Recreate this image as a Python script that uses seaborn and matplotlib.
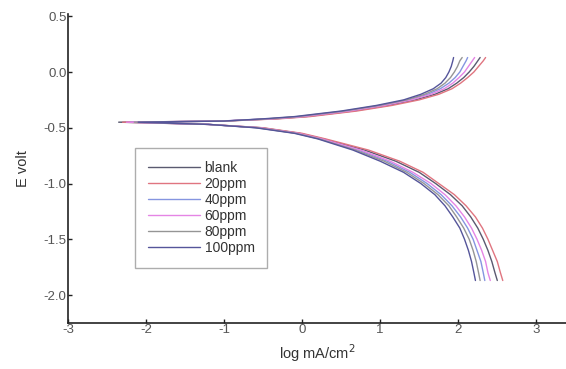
import numpy as np
import pandas as pd
import matplotlib
matplotlib.use("Agg")
import matplotlib.pyplot as plt
import seaborn as sns

# potential grids (V) for the two branches
e_cath = [-0.45, -0.47, -0.50, -0.55, -0.60, -0.70, -0.80, -0.90, -1.00, -1.10,
          -1.20, -1.30, -1.40, -1.50, -1.60, -1.70, -1.80, -1.87]
e_anod = [-0.45, -0.44, -0.42, -0.40, -0.35, -0.30, -0.25, -0.20, -0.15, -0.10,
          -0.05, 0.00, 0.05, 0.10, 0.13]

labels = ["blank", "20ppm", "40ppm", "60ppm", "80ppm", "100ppm"]

# log current density, cathodic branch
cath_blank = [-2.35, -1.20, -0.52, -0.03, 0.27, 0.80, 1.20, 1.50, 1.71, 1.90, 2.05, 2.16, 2.25, 2.32, 2.38, 2.43, 2.47, 2.50]
cath_20 = [-2.30, -1.20, -0.50, 0.00, 0.30, 0.85, 1.25, 1.55, 1.75, 1.95, 2.10, 2.22, 2.31, 2.38, 2.44, 2.50, 2.54, 2.57]
cath_40 = [-2.20, -1.20, -0.56, -0.07, 0.23, 0.72, 1.09, 1.38, 1.60, 1.78, 1.92, 2.03, 2.12, 2.19, 2.24, 2.29, 2.32, 2.34]
cath_60 = [-2.25, -1.20, -0.55, -0.05, 0.25, 0.75, 1.13, 1.42, 1.65, 1.83, 1.97, 2.08, 2.17, 2.24, 2.30, 2.35, 2.38, 2.41]
cath_80 = [-2.15, -1.20, -0.58, -0.08, 0.22, 0.68, 1.05, 1.34, 1.56, 1.74, 1.88, 1.98, 2.07, 2.14, 2.19, 2.23, 2.26, 2.28]
cath_100 = [-2.10, -1.20, -0.60, -0.10, 0.20, 0.65, 1.00, 1.30, 1.52, 1.70, 1.83, 1.93, 2.02, 2.08, 2.13, 2.17, 2.20, 2.22]

# anodic branch
anod_blank = [-2.35, -1.00, -0.35, 0.05, 0.65, 1.10, 1.45, 1.70, 1.87, 1.98, 2.07, 2.14, 2.20, 2.25, 2.28]
anod_20 = [-2.30, -1.00, -0.30, 0.10, 0.70, 1.15, 1.50, 1.75, 1.92, 2.03, 2.12, 2.20, 2.26, 2.32, 2.35]
anod_40 = [-2.20, -1.05, -0.42, -0.03, 0.57, 1.02, 1.37, 1.61, 1.77, 1.88, 1.96, 2.02, 2.06, 2.10, 2.12]
anod_60 = [-2.25, -1.05, -0.40, 0.00, 0.60, 1.05, 1.40, 1.65, 1.82, 1.93, 2.01, 2.08, 2.13, 2.18, 2.21]
anod_80 = [-2.15, -1.00, -0.45, -0.06, 0.54, 0.99, 1.34, 1.57, 1.73, 1.83, 1.90, 1.95, 1.99, 2.02, 2.05]
anod_100 = [-2.10, -1.00, -0.50, -0.10, 0.50, 0.95, 1.30, 1.52, 1.68, 1.78, 1.84, 1.88, 1.91, 1.93, 1.94]

cath = [cath_blank, cath_20, cath_40, cath_60, cath_80, cath_100]
anod = [anod_blank, anod_20, anod_40, anod_60, anod_80, anod_100]
colors = ["#5a5a70", "#e07580", "#8595e0", "#e585e5", "#959595", "#55559a"]

sns.set_style("ticks")
plt.rcParams["font.family"] = ["Liberation Sans", "DejaVu Sans"]
plt.rcParams["axes.unicode_minus"] = False

fig = plt.figure(figsize=(5.66, 3.69), dpi=100)
ax = fig.add_axes([0.120, 0.125, 0.880, 0.837])

for lab, c, a, col in zip(labels, cath, anod, colors):
    # one continuous curve: cathodic end -> Ecorr -> anodic end
    xs = list(reversed(c)) + a[1:]
    ys = list(reversed(e_cath)) + e_anod[1:]
    df = pd.DataFrame({"logi": xs, "E": ys})
    sns.lineplot(data=df, x="logi", y="E", sort=False, estimator=None,
                 color=col, lw=1.0, label=lab, ax=ax)

ax.set_xlim(-3, 3.38)
ax.set_ylim(-2.25, 0.52)
ax.set_xticks([-3, -2, -1, 0, 1, 2, 3])
ax.set_yticks([0.5, 0.0, -0.5, -1.0, -1.5, -2.0])
ax.set_yticklabels(["0.5", "0.0", "-0.5", "-1.0", "-1.5", "-2.0"])
sns.despine(ax=ax)
for s in ["left", "bottom"]:
    ax.spines[s].set_color("#222222")
    ax.spines[s].set_linewidth(1.2)
ax.tick_params(direction="in", length=3, width=1, pad=1, labelsize=9.5,
               labelcolor="#555555", colors="#222222")
ax.tick_params(axis="x", pad=1, labelcolor="#555555")

ax.set_xlabel("log mA/cm$^2$", fontsize=10.5, color="#333333", labelpad=4)
ax.set_ylabel("E volt", fontsize=10.5, color="#333333", labelpad=10)

leg = ax.legend(loc="upper left", bbox_to_anchor=(0.135, 0.565), fontsize=10,
                frameon=True, fancybox=False, handlelength=3.8,
                handletextpad=0.3, labelspacing=0.15, borderpad=0.9,
                borderaxespad=0)
leg.get_frame().set_edgecolor("#999999")
leg.get_frame().set_linewidth(1.0)
for t in leg.get_texts():
    t.set_color("#333333")

fig.savefig("out.png", dpi=100)
